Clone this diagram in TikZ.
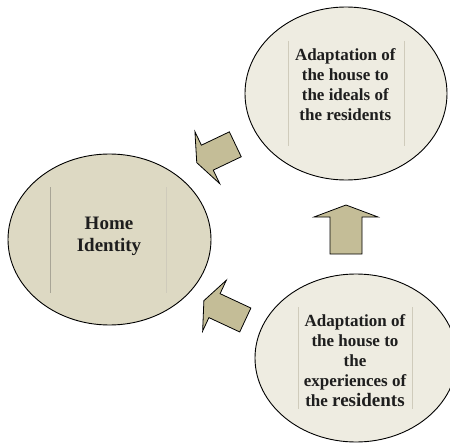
\documentclass[tikz,border=0pt]{standalone}
\usepackage{fontspec}
\setmainfont{Liberation Serif}
\usetikzlibrary{shapes.geometric}
\definecolor{homefill}{HTML}{DDD9C3}
\definecolor{bubblefill}{HTML}{EEECE1}
\definecolor{arrowfill}{HTML}{C4BD97}
\definecolor{guideline}{HTML}{A8A596}
\definecolor{guidefaint}{HTML}{CFCBBB}
\definecolor{inktext}{HTML}{1E1E1E}
\tikzset{
  bubble/.style={ellipse, draw=black, line width=0.9pt, inner sep=0pt},
  bubbletext/.style={align=center, font=\bfseries\fontsize{17}{20}\selectfont, text=inktext},
  arrowshape/.style={draw=black, line width=0.8pt, fill=arrowfill, line join=miter},
}
\newcommand{\myblockarrow}[7]{%
  \draw[arrowshape, shift={(#1,#2)}, rotate=#3]
    (0,-#4) -- (#5,-#4) -- (#5,-#6) -- ({#5+#7},0) -- (#5,#6) -- (#5,#4) -- (0,#4) -- cycle;}
\begin{document}
\begin{tikzpicture}[x=1pt,y=-1pt]
\useasboundingbox (0,0) rectangle (450,444);
\clip (0,0) rectangle (450,444);
% bubbles
\node[bubble, fill=homefill, minimum width=203pt, minimum height=171pt] (home) at (109.5,239.5) {};
\node[bubble, fill=bubblefill, minimum width=202pt, minimum height=173pt] (ideals) at (346,93.5) {};
\node[bubble, fill=bubblefill, minimum width=202pt, minimum height=168pt] (exper) at (356,358) {};
% faint text-box guides
\draw[guideline, line width=0.6pt] (50,187) -- (50,293);
\draw[guidefaint, line width=0.5pt] (166,187) -- (166,293);
\draw[guidefaint, line width=0.5pt] (288,41) -- (288,146);
\draw[guidefaint, line width=0.5pt] (404,41) -- (404,146);
\draw[guidefaint, line width=0.5pt] (298,307) -- (298,409);
\draw[guidefaint, line width=0.5pt] (412,307) -- (412,409);
% texts
\node[align=center, font=\bfseries\fontsize{19}{22}\selectfont, text=inktext] (hometext) at (109,236) {Home\\Identity};
\node[bubbletext] (idealstext) at (345.3,85) {Adaptation of\\the house to\\the ideals of\\the residents};
\node[bubbletext] (expertext) at (355,361) {Adaptation of\\the house to\\the\\experiences of\\the {\fontsize{19}{20}\selectfont residents}};
% block arrows: tail x, tail y, rotation, shaft half width, shaft length, head half width, head length
\myblockarrow{346}{254}{90}{16}{37}{32}{12}
\myblockarrow{235.3}{144.3}{-154.5}{13.8}{31}{28.8}{11.7}
\myblockarrow{245.3}{320}{155}{13.2}{34}{28}{11.7}
\end{tikzpicture}
\end{document}
